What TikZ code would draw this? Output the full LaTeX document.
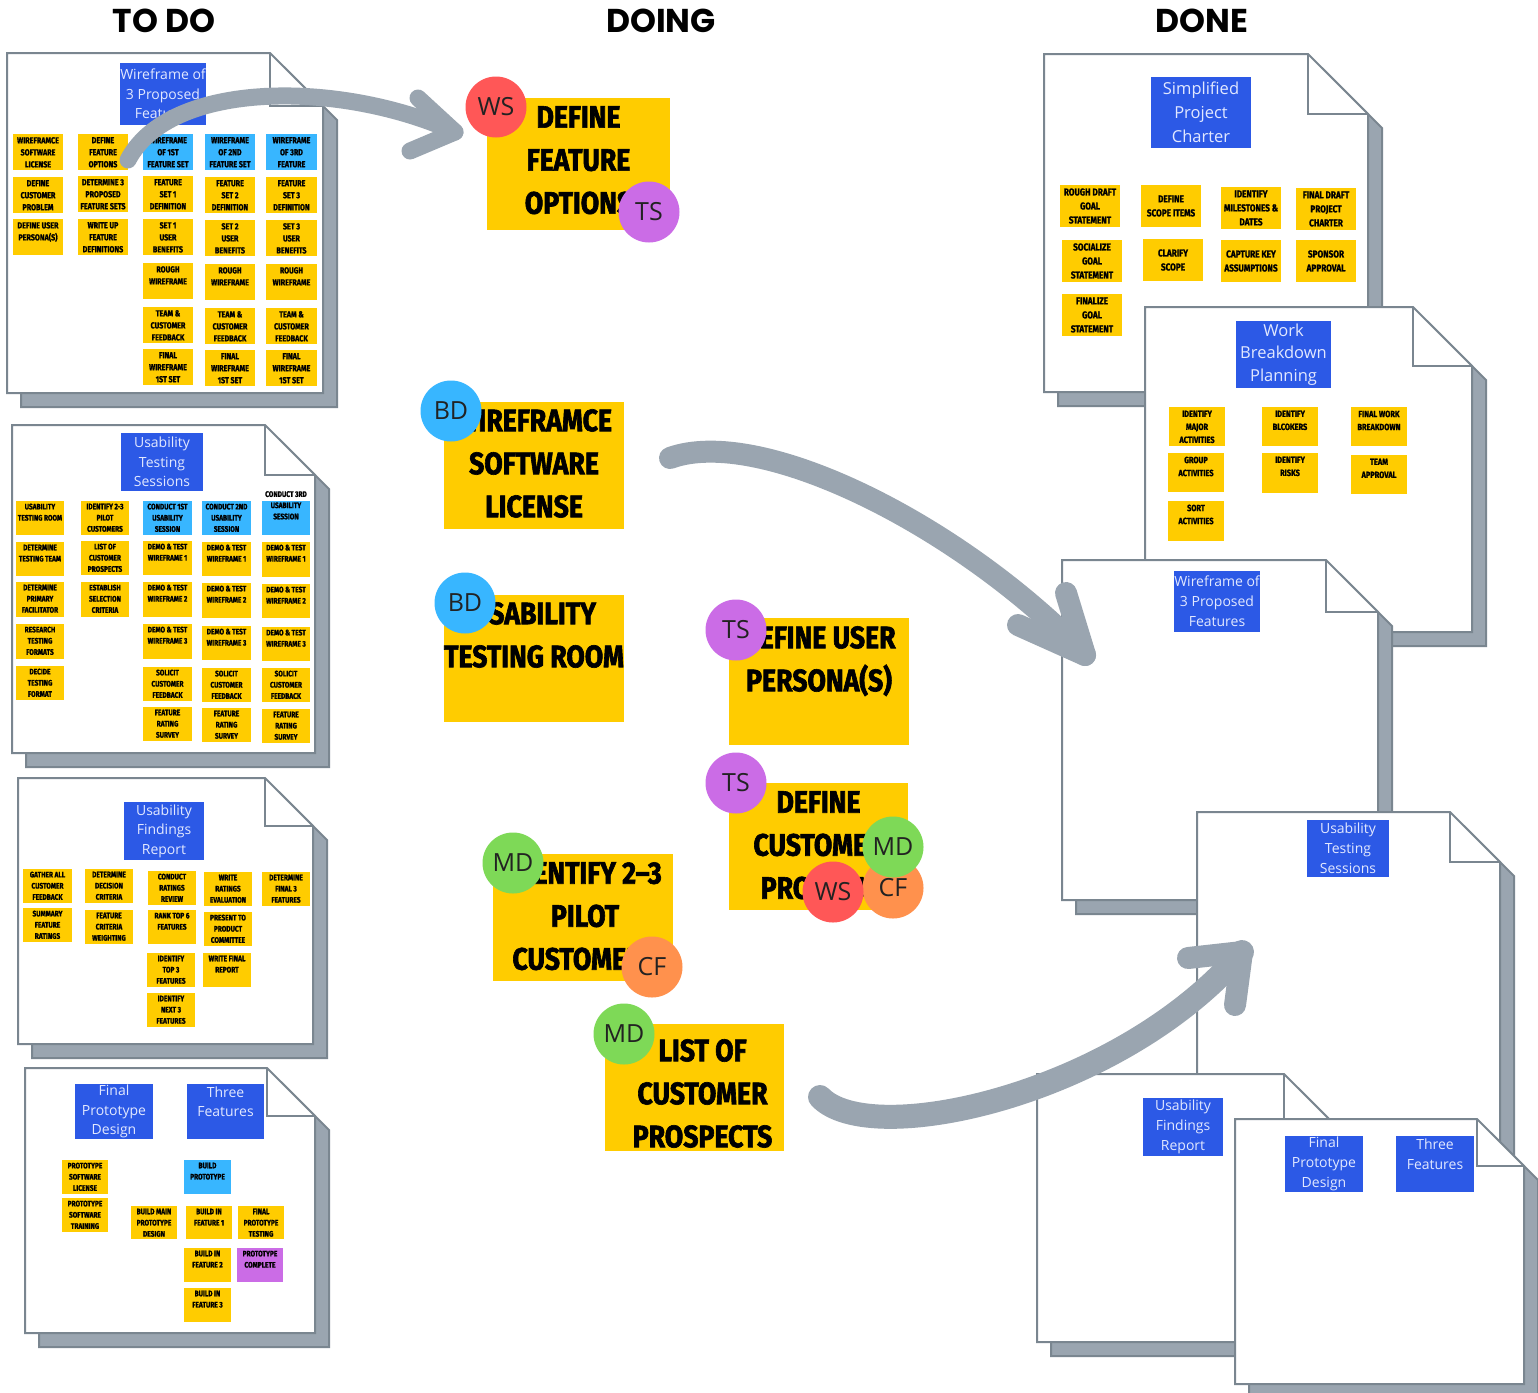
\documentclass[tikz,border=0pt]{standalone}
\usepackage{fontspec}
\setmainfont{Open Sans}
\newfontfamily\headf{Poppins}
\newfontfamily\stickf{Fira Sans}[FakeStretch=0.82, BoldFeatures={FakeBold=1.2}]
\newfontfamily\bigf{Fira Sans}[FakeStretch=0.86, BoldFeatures={FakeBold=2}]
\newfontfamily\lblf{Open Sans}
\definecolor{stky}{HTML}{FFCC00}
\definecolor{lbluec}{HTML}{38B6FF}
\definecolor{purp}{HTML}{CB6CE6}
\definecolor{lblc}{HTML}{2C59E6}
\definecolor{arrc}{HTML}{9AA5B0}
\definecolor{shadc}{HTML}{9AA5B0}
\definecolor{edgec}{HTML}{7A8690}
\definecolor{redc}{HTML}{FF5757}
\definecolor{greenc}{HTML}{7ED957}
\definecolor{orangec}{HTML}{FF914D}
\definecolor{lbltxt}{HTML}{E2E8FF}
\definecolor{inkc}{HTML}{222222}
\def\stsize{\fontsize{8.7}{12}\selectfont}
\def\lblsize{\fontsize{14}{19.5}\selectfont}
\def\stoff{3}
\tikzset{
  st/.style={font=\stickf\bfseries\stsize, align=center, inner sep=0pt, text=black},
  lbltext/.style={font=\lblf\lblsize, align=center, inner sep=0pt, text=lbltxt},
  circ/.style={circle, minimum size=61pt, inner sep=0pt, font=\lblf\fontsize{25}{25}\selectfont, text=inkc},
  bigtext/.style={font=\bigf\bfseries\fontsize{31}{43}\selectfont, align=center, inner sep=0pt, text=black},
  head/.style={font=\headf\bfseries\fontsize{33}{33}\selectfont, inner sep=0pt},
  arrowbody/.style={draw=arrc, line cap=round, line join=round},
  docline/.style={draw=edgec, line width=2pt, line join=miter}
}
% name x0 y0 x1 y1 fold
\newcommand\docpg[6]{%
  \filldraw[docline, fill=shadc] ({#2+14},{#3+14}) -- ({#4-#6+14},{#3+14}) -- ({#4+14},{#3+#6+14}) -- ({#4+14},{#5+14}) -- ({#2+14},{#5+14}) -- cycle;
  \filldraw[docline, fill=white] (#2,#3) -- ({#4-#6},#3) -- (#4,{#3+#6}) -- (#4,#5) -- (#2,#5) -- cycle;
  \draw[docline] ({#4-#6},#3) -- ({#4-#6},{#3+#6}) -- (#4,{#3+#6});
  \coordinate (#1) at ({(#2+#4)/2},{(#3+#5)/2});
}
% sticky, text from top
\newcommand\stk[7]{%
  \fill[#6] (#2,#3) rectangle (#4,#5);
  \node[st, anchor=north] (#1) at ({(#2+#4)/2},{#3+\stoff}) {#7};
}
% sticky, centred text
\newcommand\stkc[7]{%
  \fill[#6] (#2,#3) rectangle (#4,#5);
  \node[st] (#1) at ({(#2+#4)/2},{(#3+#5)/2}) {#7};
}
% blue label
\newcommand\lbl[6]{%
  \fill[lblc] (#2,#3) rectangle (#4,#5);
  \node[lbltext] (#1) at ({(#2+#4)/2},{(#3+#5)/2}) {#6};
}
% big sticky: name x0 y0 x1 y1 offset dx text
\newcommand\bigstk[8]{%
  \fill[stky] (#2,#3) rectangle (#4,#5);
  \node[bigtext, anchor=north] (#1) at ({(#2+#4)/2+#7},{#3+#6}) {#8};
}
\begin{document}
\begin{tikzpicture}[x=1pt,y=-1pt]
\useasboundingbox (0,0) rectangle (1538,1392);
\fill[white] (0,0) rectangle (1538,1392);

% headings
\node[head] (h1) at (164,21) {TO DO};
\node[head] (h2) at (661,21) {DOING};
\node[head] (h3) at (1202,21) {DONE};

% ---------------- TO DO ----------------
\docpg{docA}{7}{53}{323}{393}{53}
\lbl{lA}{120}{63}{206}{125}{Wireframe of\\3 Proposed\\Features}
\stk{a11}{13}{134}{63}{170}{stky}{WIREFRAMCE\\SOFTWARE\\LICENSE}
\stk{a12}{13}{177}{63}{213}{stky}{DEFINE\\CUSTOMER\\PROBLEM}
\stk{a13}{13}{219}{63}{255}{stky}{DEFINE USER\\PERSONA(S)}
\stk{a21}{78}{134}{128}{170}{stky}{DEFINE\\FEATURE\\OPTIONS}
\stk{a22}{78}{176}{128}{212}{stky}{DETERMINE 3\\PROPOSED\\FEATURE SETS}
\stk{a23}{78}{219}{128}{255}{stky}{WRITE UP\\FEATURE\\DEFINITIONS}
\stk{a31}{143}{134}{193}{170}{lbluec}{WIREFRAME\\OF 1ST\\FEATURE SET}
\stk{a32}{143}{176}{193}{212}{stky}{FEATURE\\SET 1\\DEFINITION}
\stk{a33}{143}{219}{193}{255}{stky}{SET 1\\USER\\BENEFITS}
\stk{a34}{143}{263}{193}{299}{stky}{ROUGH\\WIREFRAME}
\stk{a35}{143}{307}{193}{343}{stky}{TEAM \&\\CUSTOMER\\FEEDBACK}
\stk{a36}{143}{349}{193}{385}{stky}{FINAL\\WIREFRAME\\1ST SET}
\stk{a41}{205}{134}{255}{170}{lbluec}{WIREFRAME\\OF 2ND\\FEATURE SET}
\stk{a42}{205}{177}{255}{213}{stky}{FEATURE\\SET 2\\DEFINITION}
\stk{a43}{205}{220}{255}{256}{stky}{SET 2\\USER\\BENEFITS}
\stk{a44}{205}{264}{255}{300}{stky}{ROUGH\\WIREFRAME}
\stk{a45}{205}{308}{255}{344}{stky}{TEAM \&\\CUSTOMER\\FEEDBACK}
\stk{a46}{205}{350}{255}{386}{stky}{FINAL\\WIREFRAME\\1ST SET}
\stk{a51}{266}{134}{317}{170}{lbluec}{WIREFRAME\\OF 3RD\\FEATURE}
\stk{a52}{266}{177}{317}{213}{stky}{FEATURE\\SET 3\\DEFINITION}
\stk{a53}{266}{220}{317}{256}{stky}{SET 3\\USER\\BENEFITS}
\stk{a54}{266}{264}{317}{300}{stky}{ROUGH\\WIREFRAME}
\stk{a55}{266}{308}{317}{344}{stky}{TEAM \&\\CUSTOMER\\FEEDBACK}
\stk{a56}{266}{350}{317}{386}{stky}{FINAL\\WIREFRAME\\1ST SET}

\def\stsize{\fontsize{8}{11.2}\selectfont}
\def\stoff{2.5}
\docpg{docB}{12}{425}{315}{753}{50}
\lbl{lB}{121}{433}{203}{491}{Usability\\Testing\\Sessions}
\stk{b11}{16}{501}{64}{535}{stky}{USABILITY\\TESTING ROOM}
\stk{b12}{16}{542}{64}{576}{stky}{DETERMINE\\TESTING TEAM}
\stk{b13}{16}{582}{64}{617}{stky}{DETERMINE\\PRIMARY\\FACILITATOR}
\stk{b14}{16}{624}{64}{659}{stky}{RESEARCH\\TESTING\\FORMATS}
\stk{b15}{16}{666}{64}{700}{stky}{DECIDE\\TESTING\\FORMAT}
\stk{b21}{81}{501}{129}{535}{stky}{IDENTIFY 2-3\\PILOT\\CUSTOMERS}
\stk{b22}{81}{541}{129}{575}{stky}{LIST OF\\CUSTOMER\\PROSPECTS}
\stk{b23}{81}{582}{129}{617}{stky}{ESTABLISH\\SELECTION\\CRITERIA}
\stk{b31}{143}{501}{192}{535}{lbluec}{CONDUCT 1ST\\USABILITY\\SESSION}
\stk{b32}{143}{541}{192}{575}{stky}{DEMO \& TEST\\WIREFRAME 1}
\stk{b33}{143}{582}{192}{617}{stky}{DEMO \& TEST\\WIREFRAME 2}
\stk{b34}{143}{624}{192}{659}{stky}{DEMO \& TEST\\WIREFRAME 3}
\stk{b35}{143}{667}{192}{701}{stky}{SOLICIT\\CUSTOMER\\FEEDBACK}
\stk{b36}{143}{707}{192}{741}{stky}{FEATURE\\RATING\\SURVEY}
\stk{b41}{202}{501}{251}{535}{lbluec}{CONDUCT 2ND\\USABILITY\\SESSION}
\stk{b42}{202}{542}{251}{576}{stky}{DEMO \& TEST\\WIREFRAME 1}
\stk{b43}{202}{583}{251}{618}{stky}{DEMO \& TEST\\WIREFRAME 2}
\stk{b44}{202}{626}{251}{660}{stky}{DEMO \& TEST\\WIREFRAME 3}
\stk{b45}{202}{668}{251}{702}{stky}{SOLICIT\\CUSTOMER\\FEEDBACK}
\stk{b46}{202}{708}{251}{742}{stky}{FEATURE\\RATING\\SURVEY}
\fill[lbluec] (262,501) rectangle (310,535);
\node[st, anchor=north] (b51) at (286,491) {CONDUCT 3RD\\USABILITY\\SESSION};
\stk{b52}{262}{542}{310}{577}{stky}{DEMO \& TEST\\WIREFRAME 1}
\stk{b53}{262}{584}{310}{618}{stky}{DEMO \& TEST\\WIREFRAME 2}
\stk{b54}{262}{627}{310}{661}{stky}{DEMO \& TEST\\WIREFRAME 3}
\stk{b55}{262}{668}{310}{702}{stky}{SOLICIT\\CUSTOMER\\FEEDBACK}
\stk{b56}{262}{709}{310}{743}{stky}{FEATURE\\RATING\\SURVEY}

\docpg{docC}{18}{778}{313}{1044}{48}
\lbl{lC}{124}{802}{204}{860}{Usability\\Findings\\Report}
\stk{c1}{23}{869}{72}{903}{stky}{GATHER ALL\\CUSTOMER\\FEEDBACK}
\stk{c2}{23}{908}{72}{942}{stky}{SUMMARY\\FEATURE\\RATINGS}
\stk{c3}{85}{869}{133}{903}{stky}{DETERMINE\\DECISION\\CRITERIA}
\stk{c4}{85}{910}{133}{944}{stky}{FEATURE\\CRITERIA\\WEIGHTING}
\stk{c5}{148}{871}{196}{905}{stky}{CONDUCT\\RATINGS\\REVIEW}
\stk{c6}{148}{910}{196}{944}{stky}{RANK TOP 6\\FEATURES}
\stk{c7}{147}{953}{195}{987}{stky}{IDENTIFY\\TOP 3\\FEATURES}
\stk{c8}{147}{993}{195}{1027}{stky}{IDENTIFY\\NEXT 3\\FEATURES}
\stk{c9}{204}{872}{252}{906}{stky}{WRITE\\RATINGS\\EVALUATION}
\stk{c10}{204}{912}{252}{946}{stky}{PRESENT TO\\PRODUCT\\COMMITTEE}
\stk{c11}{203}{953}{251}{987}{stky}{WRITE FINAL\\REPORT}
\stk{c12}{262}{872}{310}{906}{stky}{DETERMINE\\FINAL 3\\FEATURES}

\docpg{docD}{25}{1068}{315}{1333}{48}
\lbl{lD1}{75}{1084}{153}{1139}{Final\\Prototype\\Design}
\lbl{lD2}{187}{1084}{264}{1139}{Three\\Features\\\mbox{}}
\stk{d1}{62}{1160}{108}{1194}{stky}{PROTOTYPE\\SOFTWARE\\LICENSE}
\stk{d2}{62}{1198}{108}{1232}{stky}{PROTOTYPE\\SOFTWARE\\TRAINING}
\stk{d3}{131}{1206}{177}{1239}{stky}{BUILD MAIN\\PROTOTYPE\\DESIGN}
\stk{d4}{184}{1160}{231}{1194}{lbluec}{BUILD\\PROTOTYPE}
\stk{d5}{186}{1206}{232}{1239}{stky}{BUILD IN\\FEATURE 1}
\stk{d6}{184}{1248}{231}{1282}{stky}{BUILD IN\\FEATURE 2}
\stk{d7}{184}{1288}{231}{1322}{stky}{BUILD IN\\FEATURE 3}
\stk{d8}{238}{1206}{284}{1239}{stky}{FINAL\\PROTOTYPE\\TESTING}
\stk{d9}{237}{1248}{283}{1282}{purp}{PROTOTYPE\\COMPLETE}

% ---------------- DONE ----------------
\def\lblsize{\fontsize{16.5}{24}\selectfont}
\def\stsize{\fontsize{10}{14}\selectfont}
\docpg{docE}{1044}{54}{1368}{392}{60}
\lbl{lE}{1151}{77}{1251}{148}{Simplified\\Project\\Charter}
\stkc{e1}{1060}{185}{1120}{227}{stky}{ROUGH DRAFT\\GOAL\\STATEMENT}
\stkc{e2}{1062}{240}{1122}{282}{stky}{SOCIALIZE\\GOAL\\STATEMENT}
\stkc{e3}{1062}{294}{1122}{336}{stky}{FINALIZE\\GOAL\\STATEMENT}
\stkc{e4}{1141}{185}{1201}{227}{stky}{DEFINE\\SCOPE ITEMS}
\stkc{e5}{1143}{239}{1203}{281}{stky}{CLARIFY\\SCOPE}
\stkc{e6}{1221}{187}{1281}{229}{stky}{IDENTIFY\\MILESTONES \&\\DATES}
\stkc{e7}{1221}{240}{1281}{282}{stky}{CAPTURE KEY\\ASSUMPTIONS}
\stkc{e8}{1296}{188}{1356}{230}{stky}{FINAL DRAFT\\PROJECT\\CHARTER}
\stkc{e9}{1296}{240}{1356}{282}{stky}{SPONSOR\\APPROVAL}

\def\lblsize{\fontsize{16.5}{22.5}\selectfont}
\def\stsize{\fontsize{9}{13}\selectfont}
\def\stoff{3.5}
\docpg{docF}{1145}{307}{1472}{632}{59}
\lbl{lF}{1236}{321}{1331}{388}{Work\\Breakdown\\Planning}
\stk{f1}{1169}{407}{1225}{446}{stky}{IDENTIFY\\MAJOR\\ACTIVITIES}
\stk{f2}{1168}{453}{1224}{492}{stky}{GROUP\\ACTIVITIES}
\stk{f3}{1168}{501}{1224}{541}{stky}{SORT\\ACTIVITIES}
\stk{f4}{1262}{407}{1318}{446}{stky}{IDENTIFY\\BLCOKERS}
\stk{f5}{1262}{453}{1318}{493}{stky}{IDENTIFY\\RISKS}
\stk{f6}{1351}{407}{1407}{446}{stky}{FINAL WORK\\BREAKDOWN}
\stk{f7}{1351}{455}{1407}{494}{stky}{TEAM\\APPROVAL}

\def\lblsize{\fontsize{14}{20}\selectfont}
\docpg{docG}{1062}{560}{1378}{900}{52}
\lbl{lG}{1174}{571}{1260}{632}{Wireframe of\\3 Proposed\\Features}
\docpg{docH}{1197}{812}{1500}{1200}{50}
\lbl{lH}{1307}{820}{1389}{877}{Usability\\Testing\\Sessions}
\docpg{docI}{1037}{1074}{1330}{1342}{46}
\lbl{lI}{1143}{1098}{1223}{1156}{Usability\\Findings\\Report}
\docpg{docJ}{1235}{1119}{1524}{1384}{47}
\lbl{lJ1}{1285}{1136}{1363}{1192}{Final\\Prototype\\Design}
\lbl{lJ2}{1396}{1136}{1474}{1192}{Three\\Features\\\mbox{}}

% ---------------- DOING ----------------
\bigstk{n1}{487}{98}{670}{230}{8}{0}{DEFINE\\FEATURE\\OPTIONS}
\bigstk{n2}{444}{402}{624}{529}{7}{0}{WIREFRAMCE\\SOFTWARE\\LICENSE}
\bigstk{n3}{444}{595}{624}{722}{7}{0}{USABILITY\\TESTING ROOM}
\bigstk{n4}{729}{618}{909}{745}{8}{0}{DEFINE USER\\PERSONA(S)}
\bigstk{n5}{729}{783}{908}{910}{8}{0}{DEFINE\\CUSTOMER\\PROBLEM}
\bigstk{n6}{493}{854}{673}{981}{8}{2}{IDENTIFY 2–3\\PILOT\\CUSTOMERS}
\bigstk{n7}{605}{1024}{784}{1151}{15}{8}{LIST OF\\CUSTOMER\\PROSPECTS}

\node[circ, fill=redc] (ws1) at (496,107) {WS};
\node[circ, fill=purp] (ts1) at (649,212) {TS};
\node[circ, fill=lbluec] (bd1) at (451,411) {BD};
\node[circ, fill=lbluec] (bd2) at (465,603) {BD};
\node[circ, fill=purp] (ts2) at (736,630) {TS};
\node[circ, fill=purp] (ts3) at (736,783) {TS};
\node[circ, fill=orangec] (cf3) at (893,888) {CF};
\node[circ, fill=greenc] (md3) at (893,847) {MD};
\node[circ, fill=redc] (ws3) at (833,892) {WS};
\node[circ, fill=greenc] (md4) at (513,863) {MD};
\node[circ, fill=orangec] (cf4) at (652,967) {CF};
\node[circ, fill=greenc] (md5) at (624,1034) {MD};

% ---------------- arrows ----------------
\coordinate (a1s) at (128,160);
\coordinate (a1p) at (170,80);
\coordinate (a1q) at (340,80);
\coordinate (a1t) at (455,132);
\coordinate (a1u) at (418,98);
\coordinate (a1v) at (410,151);
\draw[arrowbody, line width=17pt] (a1s) .. controls (a1p) and (a1q) .. (a1t);
\draw[arrowbody, line width=17pt] (a1u) -- (a1t) -- (a1v);

\coordinate (a2s) at (670,458);
\coordinate (a2p) at (760,425);
\coordinate (a2q) at (960,525);
\coordinate (a2t) at (1085,655);
\coordinate (a2u) at (1066,593);
\coordinate (a2v) at (1018,625);
\draw[arrowbody, line width=22pt] (a2s) .. controls (a2p) and (a2q) .. (a2t);
\draw[arrowbody, line width=22pt] (a2u) -- (a2t) -- (a2v);

\coordinate (a3s) at (820,1097);
\coordinate (a3p) at (870,1150);
\coordinate (a3q) at (1120,1095);
\coordinate (a3t) at (1242,952);
\coordinate (a3u) at (1188,958);
\coordinate (a3v) at (1235,1005);
\draw[arrowbody, line width=24pt] (a3s) .. controls (a3p) and (a3q) .. (a3t);
\draw[arrowbody, line width=22pt] (a3u) -- (a3t) -- (a3v);
\end{tikzpicture}
\end{document}
